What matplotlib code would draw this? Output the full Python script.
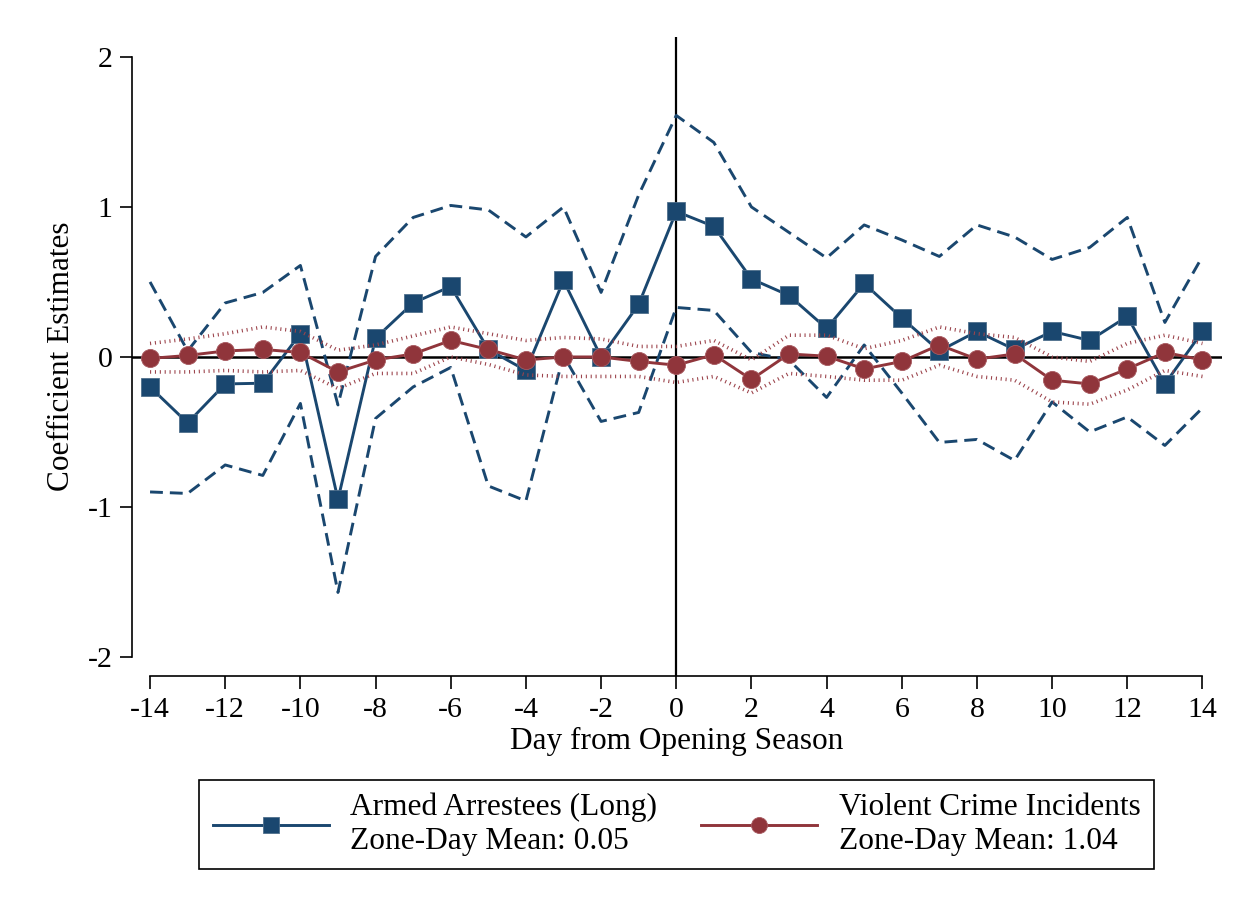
import matplotlib
matplotlib.use("Agg")
import matplotlib.pyplot as plt
from matplotlib.lines import Line2D

# ---------------- data ----------------
days = list(range(-14, 15))

armed_coef = [-0.20, -0.44, -0.18, -0.175, 0.155, -0.95, 0.125, 0.36, 0.47, 0.05,
              -0.09, 0.51, 0.00, 0.35, 0.97, 0.87, 0.52, 0.41, 0.19, 0.49,
              0.26, 0.04, 0.17, 0.05, 0.17, 0.11, 0.27, -0.18, 0.17]
armed_upper = [0.50, 0.04, 0.36, 0.43, 0.61, -0.32, 0.67, 0.93, 1.01, 0.98,
               0.80, 1.00, 0.43, 1.08, 1.61, 1.43, 1.00, 0.83, 0.66, 0.88,
               0.78, 0.67, 0.88, 0.80, 0.65, 0.73, 0.93, 0.23, 0.67]
armed_lower = [-0.90, -0.91, -0.72, -0.79, -0.31, -1.57, -0.41, -0.20, -0.07, -0.86,
               -0.96, 0.01, -0.43, -0.37, 0.33, 0.31, 0.03, -0.02, -0.27, 0.08,
               -0.24, -0.57, -0.55, -0.69, -0.30, -0.50, -0.40, -0.59, -0.34]

violent_coef = [-0.01, 0.01, 0.04, 0.05, 0.03, -0.10, -0.02, 0.02, 0.11, 0.05,
                -0.02, 0.00, 0.00, -0.03, -0.055, 0.015, -0.15, 0.02, 0.005, -0.08,
                -0.03, 0.08, -0.015, 0.02, -0.155, -0.18, -0.08, 0.03, -0.02]
violent_upper = [0.09, 0.12, 0.155, 0.20, 0.17, 0.045, 0.08, 0.14, 0.20, 0.155,
                 0.11, 0.13, 0.12, 0.07, 0.07, 0.11, -0.02, 0.145, 0.145, 0.055,
                 0.11, 0.20, 0.155, 0.13, 0.00, -0.03, 0.09, 0.145, 0.09]
violent_lower = [-0.10, -0.10, -0.09, -0.10, -0.09, -0.21, -0.11, -0.11, 0.00, -0.05,
                 -0.12, -0.13, -0.13, -0.13, -0.17, -0.13, -0.24, -0.11, -0.13, -0.155,
                 -0.155, -0.055, -0.13, -0.155, -0.30, -0.315, -0.22, -0.09, -0.13]

x_ticks = list(range(-14, 15, 2))
y_ticks = [-2, -1, 0, 1, 2]
x_label = "Day from Opening Season"
y_label = "Coefficient Estimates"
legend_labels = ["Armed Arrestees (Long)\nZone-Day Mean: 0.05",
                 "Violent Crime Incidents\nZone-Day Mean: 1.04"]

# ---------------- style ----------------
plt.rcParams['font.family'] = ['Liberation Serif', 'DejaVu Serif']
BLUE = '#1a476f'
RED = '#90353b'
RED_CI = '#9c444c'
LW = 2.1

W, H = 1252, 909
fig = plt.figure(figsize=(W / 100, H / 100), dpi=100)
fig.patch.set_facecolor('white')
ax = fig.add_axes([132 / W, 1 - 676 / H, (1222 - 132) / W, (676 - 37) / H])
ax.set_xlim(-14.48, 14.52)
ax.set_ylim(-2.127, 2.133)

# reference lines
ax.axhline(0, color='black', lw=1.8, zorder=1)
ax.axvline(0, color='black', lw=1.6, zorder=1)

# armed arrestees
ax.plot(days, armed_upper, color=BLUE, lw=LW, dashes=(4.4, 2.4), zorder=2)
ax.plot(days, armed_lower, color=BLUE, lw=LW, dashes=(4.4, 2.4), zorder=2)
ax.plot(days, armed_coef, color=BLUE, lw=LW, marker='s', ms=13.5,
        mec='#4f6f8c', mew=0.6, zorder=3)

# violent crime
ax.plot(days, violent_upper, color=RED_CI, lw=2.6, dashes=(0.3, 1.05),
        dash_capstyle='butt', zorder=4)
ax.plot(days, violent_lower, color=RED_CI, lw=2.6, dashes=(0.3, 1.05),
        dash_capstyle='butt', zorder=4)
ax.plot(days, violent_coef, color=RED, lw=LW, marker='o', ms=13,
        mec='#a85a60', mew=0.6, zorder=5)

# axes
for s in ['top', 'right']:
    ax.spines[s].set_visible(False)
ax.spines['left'].set_bounds(-2, 2)
ax.spines['bottom'].set_bounds(-14, 14)
ax.spines['left'].set_linewidth(1.2)
ax.spines['bottom'].set_linewidth(1.2)
ax.set_xticks(x_ticks)
ax.set_yticks(y_ticks)
ax.set_xticklabels([str(v) for v in x_ticks])
ax.set_yticklabels([str(v) for v in y_ticks])
ax.tick_params(axis='both', length=9, width=1.2, labelsize=21.5, direction='out')
ax.tick_params(axis='y', pad=5)
ax.tick_params(axis='x', pad=6)
ax.set_xlabel(x_label, fontsize=22.5)
ax.set_ylabel(y_label, fontsize=22.5)
ax.xaxis.set_label_coords(0.5, -0.08)
ax.yaxis.set_label_coords(-0.051, 0.5)

# legend
handles = [Line2D([], [], color=BLUE, lw=LW, marker='s', ms=12, mec='#4f6f8c', mew=0.6),
           Line2D([], [], color=RED, lw=LW, marker='o', ms=11.5, mec='#a85a60', mew=0.6)]
leg = ax.legend(handles, legend_labels, ncol=2, fontsize=22.6,
                loc='center', bbox_to_anchor=(676.5 / W, 1 - 824.5 / H),
                bbox_transform=fig.transFigure,
                frameon=True, fancybox=False, edgecolor='black', framealpha=1,
                handlelength=3.7, handletextpad=0.68, columnspacing=1.4,
                borderpad=0.42, numpoints=1, borderaxespad=0)
for t in leg.get_texts():
    t.set_linespacing(1.22)
leg.get_frame().set_linewidth(1.2)

fig.savefig('out.png', dpi=100, facecolor='white')
